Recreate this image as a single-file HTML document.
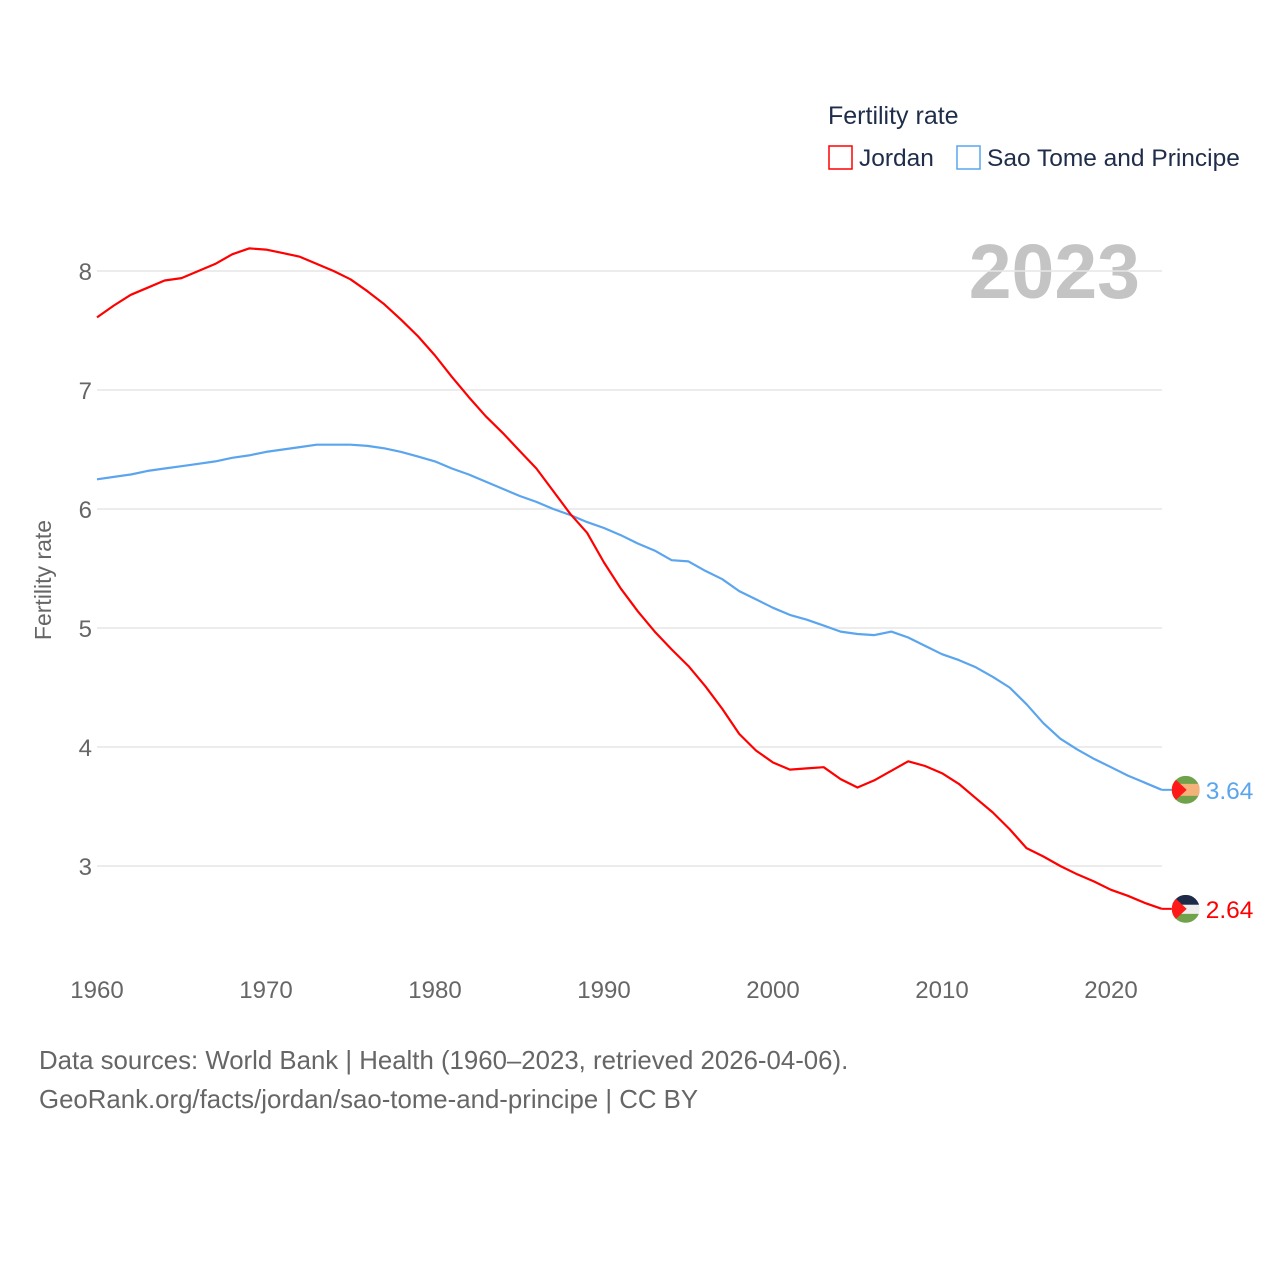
<!DOCTYPE html>
<html><head><meta charset="utf-8"><style>
body{margin:0;background:#fff;width:1280px;height:1280px;overflow:hidden;font-family:"Liberation Sans",sans-serif}
svg text{font-family:"Liberation Sans",sans-serif}
</style></head><body>
<svg id="chart" width="1280" height="1280">
<g>
<text x="828" y="124" font-size="25" fill="#1f2d4a">Fertility rate</text>
<g><rect x="829" y="146" width="23" height="23" fill="none" stroke="#ff0000" stroke-width="1.5"/><text x="859" y="166" font-size="24.5" fill="#1f2d4a">Jordan</text></g>
<g><rect x="957" y="146" width="23" height="23" fill="none" stroke="#5aa5ee" stroke-width="1.5"/><text x="987" y="166" font-size="24.5" fill="#1f2d4a">Sao Tome and Principe</text></g>
</g>
<text x="1140" y="298" font-size="77" font-weight="bold" fill="#c4c4c4" text-anchor="end">2023</text>
<g id="grid"></g><g id="yt"></g><g id="xt"></g><g id="lines"></g>
<text transform="translate(51,580) rotate(-90)" font-size="23" fill="#666" text-anchor="middle">Fertility rate</text>
<text x="39" y="1069" font-size="25.8" fill="#666">Data sources: World Bank | Health (1960–2023, retrieved 2026-04-06).</text>
<text x="39" y="1108" font-size="25.8" fill="#666">GeoRank.org/facts/jordan/sao-tome-and-principe | CC BY</text>
</svg>
<script>
const years=[];for(let y=1960;y<=2023;y++)years.push(y);
const jordan=[7.61,7.71,7.80,7.86,7.92,7.94,8.00,8.06,8.14,8.19,8.18,8.15,8.12,8.06,8.00,7.93,7.83,7.72,7.59,7.45,7.29,7.11,6.94,6.78,6.64,6.49,6.34,6.15,5.96,5.80,5.55,5.33,5.14,4.97,4.82,4.68,4.51,4.32,4.11,3.97,3.87,3.81,3.82,3.83,3.73,3.66,3.72,3.80,3.88,3.84,3.78,3.69,3.57,3.45,3.31,3.15,3.08,3.00,2.93,2.87,2.80,2.75,2.69,2.64];
const stp=[6.25,6.27,6.29,6.32,6.34,6.36,6.38,6.40,6.43,6.45,6.48,6.50,6.52,6.54,6.54,6.54,6.53,6.51,6.48,6.44,6.40,6.34,6.29,6.23,6.17,6.11,6.06,6.00,5.95,5.89,5.84,5.78,5.71,5.65,5.57,5.56,5.48,5.41,5.31,5.24,5.17,5.11,5.07,5.02,4.97,4.95,4.94,4.97,4.92,4.85,4.78,4.73,4.67,4.59,4.50,4.36,4.20,4.07,3.98,3.90,3.83,3.76,3.70,3.64];
const yTicks=[3,4,5,6,7,8];
const xTicks=[1960,1970,1980,1990,2000,2010,2020];
const NS='http://www.w3.org/2000/svg';
const X=y=>97+(y-1960)*(1111-97)/60;
const Y=v=>866-(v-3)*119;
function mk(t,a,p){const e=document.createElementNS(NS,t);for(const k in a)e.setAttribute(k,a[k]);p.appendChild(e);return e;}
const grid=document.getElementById('grid'),yt=document.getElementById('yt'),xt=document.getElementById('xt'),lines=document.getElementById('lines');
yTicks.forEach(v=>{
const l=mk('line',{x1:97,x2:1162,y1:Y(v),y2:Y(v),stroke:'#e6e6e6','stroke-width':1.5},grid);


const t=mk('text',{x:92,y:Y(v)+9,'font-size':24,fill:'#666','text-anchor':'end'},yt);t.textContent=v;


});
xTicks.forEach(v=>{
const t=mk('text',{x:X(v),y:998,'font-size':24,fill:'#666','text-anchor':'middle'},xt);t.textContent=v;


});
function line(d,c,name){
const p=mk('path',{d:d.map((v,i)=>(i?'L':'M')+X(years[i]).toFixed(1)+','+Y(v).toFixed(1)).join(''),fill:'none',stroke:c,'stroke-width':2.2,'stroke-linejoin':'round'},lines);


const last=d[d.length-1],lx=X(years[years.length-1]),ly=Y(last);
mk('line',{x1:lx,x2:lx+12,y1:ly,y2:ly,stroke:c,'stroke-width':2},lines);
const t=mk('text',{x:lx+44,y:ly+9,'font-size':24.5,fill:c},lines);t.textContent=last.toFixed(2);


return [lx+24,ly];
}
const [sx,sy]=line(stp,'#5aa5ee','sao-tome');
const [jx,jy]=line(jordan,'#ff0000','jordan');
function flag(cx,cy,name,stp){
const g=mk('g',{},lines);


const id='c'+name;const cp=mk('clipPath',{id:id},g);mk('circle',{cx:cx,cy:cy,r:14},cp);
const h=mk('g',{'clip-path':'url(#'+id+')'},g);
if(stp){mk('rect',{x:cx-14,y:cy-14,width:28,height:28,fill:'#6fa24a'},h);mk('rect',{x:cx-14,y:cy-6,width:28,height:12,fill:'#f3b27a'},h);}
else{mk('rect',{x:cx-14,y:cy-14,width:28,height:10,fill:'#1e2b48'},h);mk('rect',{x:cx-14,y:cy-4,width:28,height:9,fill:'#eee'},h);mk('rect',{x:cx-14,y:cy+5,width:28,height:9,fill:'#6fa24a'},h);}
mk('polygon',{points:(cx-14)+','+(cy-14)+' '+(cx+1)+','+cy+' '+(cx-14)+','+(cy+14),fill:'#ff1a1a'},h);
}
flag(sx,sy,'sao-tome',true);
flag(jx,jy,'jordan',false);
</script>
</body></html>
